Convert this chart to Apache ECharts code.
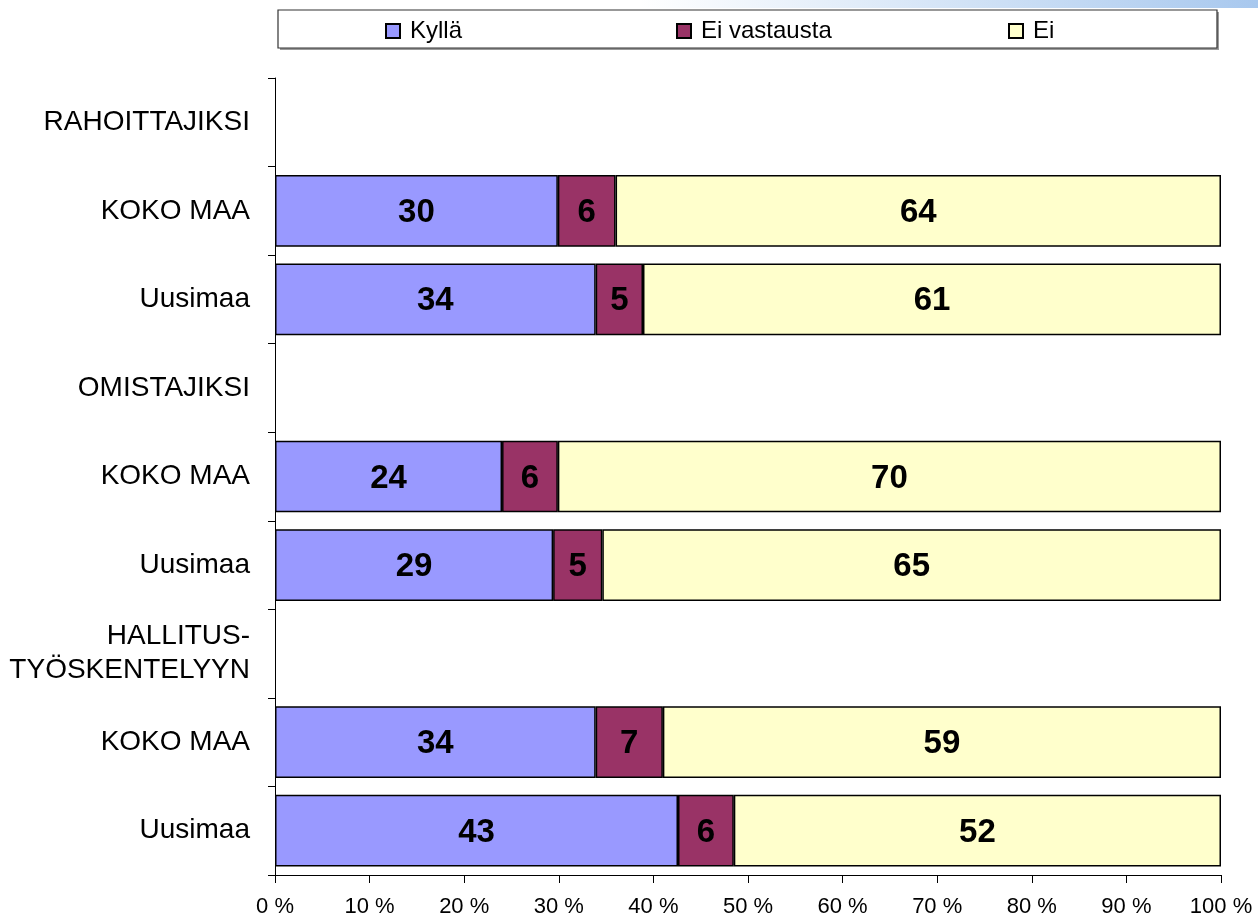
<!DOCTYPE html>
<html>
<head>
<meta charset="utf-8">
<script src="https://cdn.jsdelivr.net/npm/echarts@6/dist/echarts.min.js"></script>
<style>
html,body{margin:0;padding:0;background:#fff;}
#chart{width:1258px;height:918px;}
</style>
</head>
<body>
<div id="chart"></div>
<script>
const categories = ['RAHOITTAJIKSI','KOKO MAA','Uusimaa','OMISTAJIKSI','KOKO MAA','Uusimaa','HALLITUS-\nTYÖSKENTELYYN','KOKO MAA','Uusimaa'];
const seriesNames = ['Kyllä','Ei vastausta','Ei'];
const kylla       = [null, 29.9, 33.9, null, 24.0, 29.4, null, 33.9, 42.6];
const eiVastausta = [null,  6.1,  5.0, null,  5.9,  5.2, null,  7.1,  5.9];
const ei          = [null, 64.0, 61.1, null, 70.1, 65.4, null, 59.0, 51.5];
const xTicks = {min: 0, max: 100, interval: 10};
const colors = ['#9999FF','#993366','#FFFFCC'];

const FONT = '"Liberation Sans", Arial, sans-serif';
const chart = echarts.init(document.getElementById('chart'), null, {renderer:'canvas'});

function mkSeries(name, data, color) {
  return {
    name: name, type: 'bar', stack: 'total', data: data,
    barCategoryGap: '19%',
    itemStyle: {color: color, borderColor: '#000', borderWidth: 1.5},
    label: {
      show: true, position: 'inside', color: '#000', fontFamily: FONT,
      fontWeight: 'bold', fontSize: 33, offset: [0, 2],
      formatter: p => (p.value == null ? '' : String(Math.round(p.value)))
    },
    emphasis: {disabled: true},
    animation: false
  };
}

function mkLegend(name, left) {
  return {
    data: [name], left: left, top: 19, padding: 0, icon: 'rect',
    itemWidth: 14, itemHeight: 14,
    textStyle: {fontFamily: FONT, fontSize: 24, color: '#000', padding: [0,0,0,5]},
    selectedMode: false
  };
}

chart.setOption({
  backgroundColor: '#fff',
  animation: false,
  textStyle: {fontFamily: FONT},
  graphic: [
    {type: 'rect', shape: {x: 640, y: 0, width: 618, height: 8}, z: -10,
     style: {fill: new echarts.graphic.LinearGradient(0,0,1,0,[{offset:0,color:'rgba(170,202,238,0)'},{offset:1,color:'#a8c8ee'}])}},
    {type: 'rect', shape: {x: 280, y: 12, width: 939, height: 38}, z: -9,
     style: {fill: '#9a9a9a'}},
    {type: 'rect', shape: {x: 278, y: 10, width: 939, height: 38}, z: -8,
     style: {fill: '#fff', stroke: '#333', lineWidth: 1.2}}
  ],
  legend: [mkLegend(seriesNames[0], 385), mkLegend(seriesNames[1], 676), mkLegend(seriesNames[2], 1008)],
  grid: {left: 275, right: 37, top: 78, bottom: 43, containLabel: false},
  xAxis: {
    type: 'value', min: xTicks.min, max: xTicks.max, interval: xTicks.interval,
    axisLine: {show: true, lineStyle: {color: '#000', width: 1}},
    axisTick: {show: true, length: 8, lineStyle: {color: '#000'}},
    splitLine: {show: false},
    axisLabel: {formatter: '{value} %', fontSize: 22, color: '#000', margin: 21, fontFamily: FONT}
  },
  yAxis: {
    type: 'category', data: categories, inverse: true,
    axisLine: {show: true, lineStyle: {color: '#000', width: 1}},
    axisTick: {show: true, length: 7, lineStyle: {color: '#000'}},
    axisLabel: {fontSize: 28, color: '#000', margin: 25, lineHeight: 34, fontFamily: FONT, align: 'right',
                padding: [4, 0, 0, 0]}
  },
  series: [
    mkSeries(seriesNames[0], kylla, colors[0]),
    mkSeries(seriesNames[1], eiVastausta, colors[1]),
    mkSeries(seriesNames[2], ei, colors[2])
  ]
});
</script>
</body>
</html>
